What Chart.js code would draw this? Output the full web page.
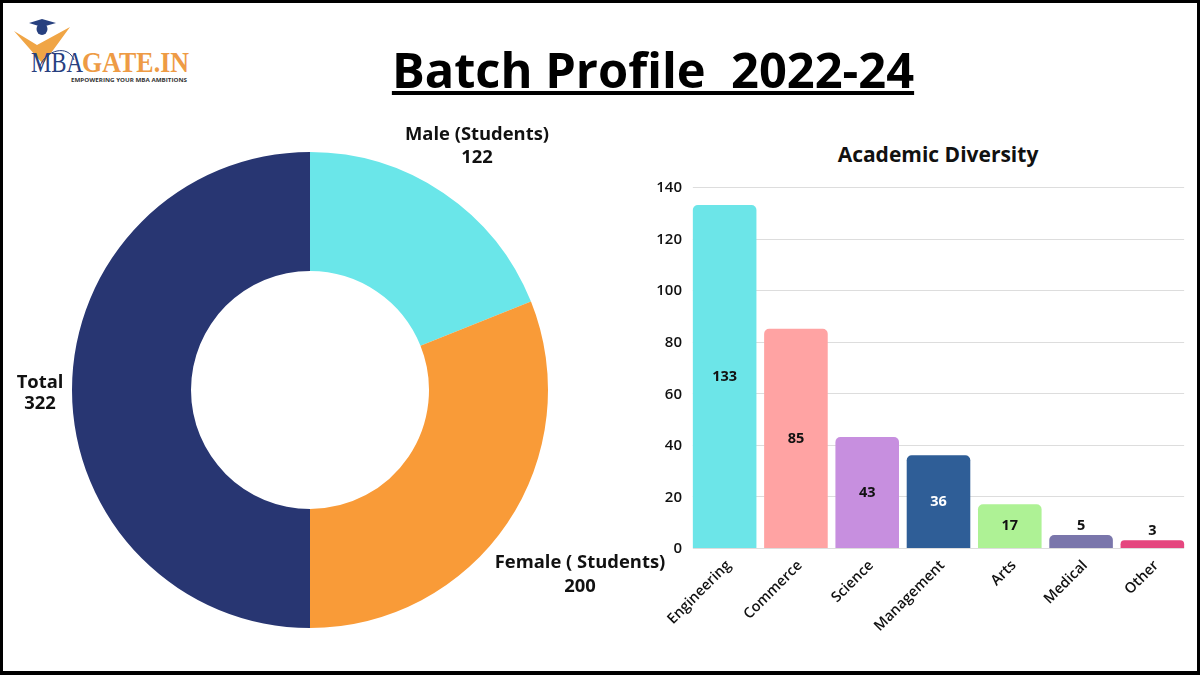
<!DOCTYPE html>
<html>
<head>
<meta charset="utf-8">
<script src="https://cdn.jsdelivr.net/npm/chart.js@4"></script>
<style>
html, body { margin: 0; padding: 0; background: #fff; }
#page { position: relative; width: 1200px; height: 675px; overflow: hidden; background: #fff; font-family: "Open Sans", sans-serif; color: #111; }
#frame { position: absolute; left: 0; top: 0; width: 1200px; height: 675px; box-sizing: border-box; border: 3px solid #000; border-bottom-width: 4px; z-index: 5; pointer-events: none; }
#title { position: absolute; left: 352px; top: 36px; width: 602px; text-align: center; font-size: 48.8px; font-weight: 700; line-height: 66px; white-space: pre; color: #000; text-decoration: underline; text-decoration-thickness: 4px; text-underline-offset: 3px; }
#barTitle { position: absolute; left: 738px; top: 140px; width: 400px; text-align: center; font-size: 21px; font-weight: 700; line-height: 28px; color: #111; }
.lab { position: absolute; text-align: center; font-size: 18.4px; font-weight: 700; line-height: 23px; white-space: nowrap; color: #111; }
#pie { position: absolute; left: 50px; top: 130px; width: 520px; height: 520px; }
#bar { position: absolute; left: 640px; top: 171px; width: 550px; height: 480px; }
#logo { position: absolute; left: 10px; top: 14px; }
</style>
</head>
<body>
<div id="page">
  <div id="frame"></div>
  <svg id="logo" width="190" height="72" viewBox="0 0 190 72">
    <path d="M4 17 L27 31 L60 13 L33 50 Z" fill="#f0a545"/>
    <ellipse cx="32" cy="15" rx="5.5" ry="6" fill="#27407f"/>
    <path d="M19 9 L32 5 L46 9 L32 13 Z" fill="#27407f"/>
    <path d="M30 52 C36 36 58 30 64 46" fill="none" stroke="#27407f" stroke-width="1"/>
    <text x="21" y="58" font-family="Liberation Serif" font-size="29" fill="#27407f" textLength="52" lengthAdjust="spacingAndGlyphs">MBA</text>
    <text x="72" y="58" font-family="Liberation Serif" font-size="29" font-weight="700" fill="#ee9b45" textLength="107" lengthAdjust="spacingAndGlyphs">GATE.IN</text>
    <text x="61" y="68" font-family="Open Sans" font-size="5.5" font-weight="700" fill="#333" textLength="116" lengthAdjust="spacingAndGlyphs">EMPOWERING YOUR MBA AMBITIONS</text>
  </svg>
  <div id="title">Batch Profile  2022-24</div>
  <div id="barTitle">Academic Diversity</div>
  <canvas id="pie" width="520" height="520"></canvas>
  <canvas id="bar" width="550" height="480"></canvas>
  <div class="lab" style="left:397px;top:121px;width:160px">Male (Students)<br>122</div>
  <div class="lab" style="left:490px;top:549px;width:180px;line-height:24px">Female ( Students)<br>200</div>
  <div class="lab" style="left:0px;top:370px;width:80px;line-height:21px">Total<br>322</div>
</div>
<script>
var pieLabels = ["Male (Students)", "Female ( Students)", "Total"];
var pieValues = [122, 200, 322];
var pieColors = ["#6ae6e9", "#f99b38", "#283672"];

var barLabels = ["Engineering", "Commerce", "Science", "Management", "Arts", "Medical", "Other"];
var barValues = [133, 85, 43, 36, 17, 5, 3];
var barColors = ["#6ce5e8", "#ffa3a3", "#c78fdf", "#2f5e97", "#aef295", "#7a76ab", "#e5477f"];
var yTicks = [0, 20, 40, 60, 80, 100, 120, 140];

Chart.defaults.font.family = '"Open Sans", sans-serif';
Chart.defaults.animation = false;

var pieChart = new Chart(document.getElementById('pie'), {
	type: 'doughnut',
	data: {
		labels: pieLabels,
		datasets: [{
			data: pieValues,
			backgroundColor: pieColors,
			borderWidth: 0,
			radius: 238,
			cutout: '50%'
		}]
	},
	options: {
		responsive: false,
		plugins: { legend: { display: false }, tooltip: { enabled: false } }
	}
});

// gridlines only run from the first bar edge to the last bar edge
var barGrid = {
	id: 'barGrid',
	beforeDatasetsDraw: function(chart) {
		var ctx = chart.ctx;
		var bars = chart.getDatasetMeta(0).data;
		var left = bars[0].x - bars[0].width / 2;
		var right = bars[bars.length - 1].x + bars[bars.length - 1].width / 2;
		ctx.save();
		ctx.strokeStyle = "#dddddd";
		ctx.lineWidth = 1;
		yTicks.forEach(function(v) {
			var y = Math.round(chart.scales.y.getPixelForValue(v)) + 0.5;
			ctx.beginPath();
			ctx.moveTo(left, y);
			ctx.lineTo(right, y);
			ctx.stroke();
		});
		ctx.restore();
	}
};

// numbers on the bars: inside when there is room, above the small ones
var barValueLabels = {
	id: 'barValueLabels',
	afterDatasetsDraw: function(chart) {
		var ctx = chart.ctx;
		var meta = chart.getDatasetMeta(0);
		ctx.save();
		ctx.font = '700 14.5px "Open Sans"';
		ctx.textAlign = 'center';
		ctx.textBaseline = 'middle';
		meta.data.forEach(function(el, i) {
			var small = barValues[i] < 10;
			var y = small ? el.y - 9 : (el.y + el.base) / 2;
			ctx.fillStyle = barColors[i] === "#2f5e97" ? "#ffffff" : "#111111";
			ctx.fillText(barValues[i], el.x, y);
		});
		ctx.restore();
	}
};

var barChart = new Chart(document.getElementById('bar'), {
	type: 'bar',
	data: {
		labels: barLabels,
		datasets: [{
			data: barValues,
			backgroundColor: barColors,
			borderRadius: { topLeft: 5, topRight: 5, bottomLeft: 0, bottomRight: 0 },
			borderSkipped: false,
			barPercentage: 0.892,
			categoryPercentage: 1
		}]
	},
	options: {
		responsive: false,
		layout: { padding: { top: 16, right: 2, bottom: 0, left: 0 } },
		plugins: { legend: { display: false }, tooltip: { enabled: false } },
		scales: {
			y: {
				min: 0,
				max: 140,
				afterFit: function(s) { s.width = 49; },
				afterBuildTicks: function(s) { s.ticks = yTicks.map(function(v) { return { value: v }; }); },
				border: { display: false },
				grid: { display: false, drawTicks: false },
				ticks: { color: "#111", padding: 7, labelOffset: 1, font: { size: 15, weight: '600' } }
			},
			x: {
				afterFit: function(s) { s.height = 103; },
				border: { display: false },
				grid: { display: false },
				ticks: { color: "#111", minRotation: 45, maxRotation: 45, padding: 1, labelOffset: 4, font: { size: 14.5, weight: '600' } }
			}
		}
	},
	plugins: [barGrid, barValueLabels]
});
</script>
</body>
</html>
